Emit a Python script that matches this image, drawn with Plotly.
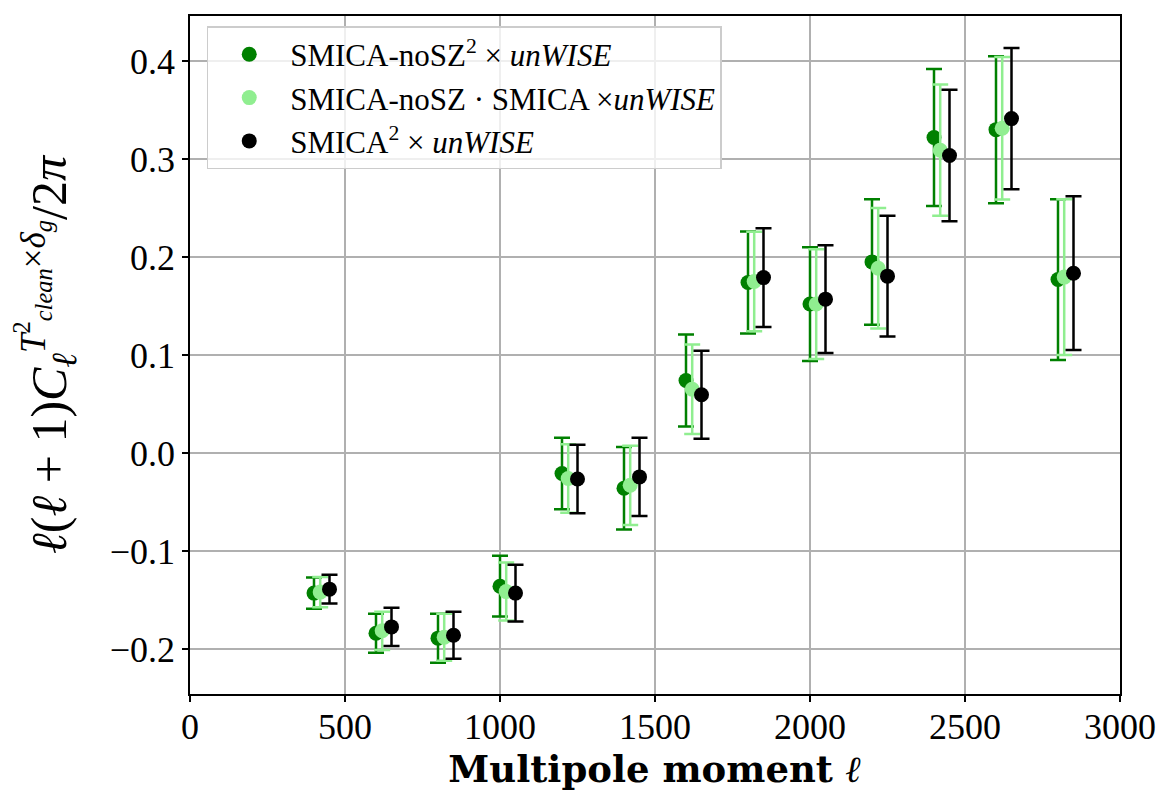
import plotly.graph_objects as go

# Multipole bins for each series (slightly offset in the original)
ell_nosz2 = [400, 600, 800, 1000, 1200, 1400, 1600, 1800, 2000, 2200, 2400, 2600, 2800]
ell_mixed = [420, 620, 820, 1020, 1220, 1420, 1620, 1820, 2020, 2220, 2420, 2620, 2820]
ell_smica2 = [450, 650, 850, 1050, 1250, 1450, 1650, 1850, 2050, 2250, 2450, 2650, 2850]

cl_nosz2 = [-0.143, -0.184, -0.189, -0.136, -0.021, -0.036, 0.074, 0.174, 0.152, 0.195, 0.322, 0.330, 0.177]
err_nosz2 = [0.016, 0.020, 0.025, 0.031, 0.0365, 0.042, 0.047, 0.052, 0.058, 0.064, 0.070, 0.075, 0.082]

cl_mixed = [-0.142, -0.1815, -0.188, -0.1415, -0.026, -0.033, 0.065, 0.175, 0.152, 0.1885, 0.309, 0.3315, 0.1795]
err_mixed = [0.0155, 0.0195, 0.024, 0.0296, 0.035, 0.0405, 0.0456, 0.0507, 0.056, 0.0615, 0.067, 0.0727, 0.0795]

cl_smica2 = [-0.139, -0.1775, -0.186, -0.143, -0.0265, -0.0244, 0.0594, 0.179, 0.157, 0.1805, 0.3036, 0.3413, 0.1835]
err_smica2 = [0.0147, 0.0195, 0.024, 0.029, 0.035, 0.040, 0.045, 0.0503, 0.055, 0.0615, 0.067, 0.072, 0.0785]

names = [
    "SMICA-noSZ<sup>2</sup> × <i>unWISE</i>",
    "SMICA-noSZ · SMICA ×<i>unWISE</i>",
    "SMICA<sup>2</sup> × <i>unWISE</i>",
]
colors = ["green", "lightgreen", "black"]

x_ticks = [0, 500, 1000, 1500, 2000, 2500, 3000]
y_ticks = [-0.2, -0.1, 0.0, 0.1, 0.2, 0.3, 0.4]

FONT = "Liberation Serif"

fig = go.Figure()
for x, y, e, n, c in zip([ell_nosz2, ell_mixed, ell_smica2],
                         [cl_nosz2, cl_mixed, cl_smica2],
                         [err_nosz2, err_mixed, err_smica2], names, colors):
    fig.add_trace(go.Scatter(
        x=x, y=y, mode="markers", name=n,
        marker=dict(color=c, size=15),
        error_y=dict(type="data", array=e, visible=True, color=c, thickness=2.5, width=8),
    ))

fig.add_hline(y=0, line=dict(color="black", width=1.5), layer="below")

# the page body adds an 8px offset, so the figure is sized/margined to compensate
fig.update_layout(
    width=1165, height=798,
    margin=dict(l=182, r=53, t=8, b=112),
    paper_bgcolor="white", plot_bgcolor="white",
    font=dict(family=FONT, color="black"),
    showlegend=True,
    legend=dict(
        x=0.018, y=0.985, xanchor="left", yanchor="top",
        bgcolor="rgba(255,255,255,0.8)", bordercolor="#cccccc", borderwidth=1.5,
        font=dict(family=FONT, size=31), itemsizing="trace", itemwidth=72,
        tracegroupgap=0,
    ),
    xaxis=dict(
        range=[0, 3000], tickvals=x_ticks, ticktext=[str(v) for v in x_ticks],
        showgrid=True, gridcolor="#b0b0b0", gridwidth=1.5, automargin=False,
        showline=True, linecolor="black", linewidth=1.5, mirror=True,
        ticks="outside", ticklen=6, tickwidth=1.5, tickcolor="black",
        tickfont=dict(size=36, family=FONT), zeroline=False, ticklabelstandoff=-6,
        title=dict(text="<b>Multipole moment <i>ℓ</i></b>", font=dict(size=37, family="DejaVu Serif"), standoff=0),
    ),
    yaxis=dict(
        range=[-0.246, 0.446], tickvals=y_ticks, tickformat=".1f",
        showgrid=True, gridcolor="#b0b0b0", gridwidth=1.5, automargin=False,
        showline=True, linecolor="black", linewidth=1.5, mirror=True,
        ticks="outside", ticklen=6, tickwidth=1.5, tickcolor="black",
        tickfont=dict(size=36, family=FONT), zeroline=False,
        title=dict(text="<i>ℓ</i>(<i>ℓ</i> + 1)<i>C</i><sub><i>ℓ</i></sub><sup><i>T</i><sup>2</sup><sub><i>clean</i></sub>×<i>δ</i><sub><i>g</i></sub></sup>/2<i>π</i>",
                   font=dict(size=50, family=FONT), standoff=38),
    ),
)

fig.write_html("out.html")
